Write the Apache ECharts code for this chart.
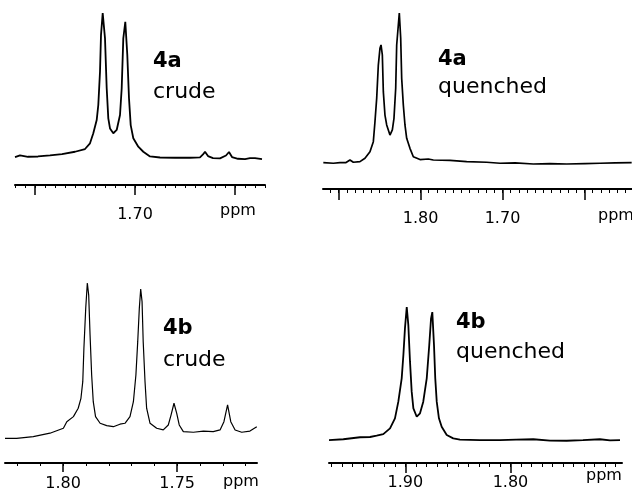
<!DOCTYPE html>
<html>
<head>
<meta charset="utf-8">
<script src="https://cdn.jsdelivr.net/npm/echarts@6/dist/echarts.min.js"></script>
<style>
  html, body { margin: 0; padding: 0; background: #fff; }
  #chart { width: 632px; height: 494px; }
</style>
</head>
<body>
<div id="chart"></div>
<script>
// 4a crude (top left)
var ppm4aCrude = [1.820, 1.815, 1.807, 1.797, 1.785, 1.773, 1.760, 1.750, 1.745, 1.7417, 1.7383, 1.7367, 1.735, 1.734, 1.7323, 1.730, 1.7283, 1.7267, 1.725, 1.7217, 1.7183, 1.715, 1.7133, 1.7117, 1.7097, 1.7077, 1.706, 1.7043, 1.7017, 1.6967, 1.6917, 1.685, 1.675, 1.660, 1.645, 1.635, 1.632, 1.630, 1.627, 1.622, 1.615, 1.609, 1.606, 1.603, 1.597, 1.590, 1.585, 1.580, 1.573];
var int4aCrude = [-0.5, 0.7, -0.3, -0.1, 0.7, 1.6, 3.2, 5.1, 9.1, 16.1, 25.3, 35.8, 59.0, 84.6, 100, 82.3, 47.5, 26.5, 19.5, 16.1, 18.4, 28.8, 47.5, 82.3, 93.9, 70.7, 40.5, 21.8, 12.6, 6.7, 3.2, -0.1, -0.8, -1.0, -1.0, -0.7, 1.3, 3.2, 0.2, -1.2, -1.4, 0.6, 3.0, -0.5, -1.7, -1.9, -1.2, -1.2, -1.9];
var major4aCrude = [1.80, 1.70, 1.60];
var labels4aCrude = [1.70];

// 4a quenched (top right)
var ppm4aQuench = [1.9186, 1.9064, 1.8983, 1.8909, 1.8861, 1.8820, 1.8739, 1.8678, 1.8617, 1.8576, 1.8556, 1.8535, 1.8515, 1.8495, 1.8482, 1.8466, 1.8454, 1.8434, 1.8413, 1.8373, 1.8344, 1.8324, 1.8303, 1.8291, 1.8271, 1.8259, 1.8242, 1.8230, 1.8210, 1.8190, 1.8169, 1.8129, 1.8088, 1.8007, 1.7905, 1.7844, 1.7640, 1.7437, 1.7193, 1.7030, 1.6847, 1.6624, 1.6420, 1.6217, 1.5993, 1.5810, 1.5627, 1.5424];
var int4aQuench = [-1.2, -1.6, -1.2, -1.1, 0.6, -0.9, -0.5, 1.8, 6.2, 13.0, 26.5, 42.3, 64.8, 76.1, 78.4, 71.6, 46.8, 31.0, 24.3, 17.5, 20.9, 28.8, 49.1, 78.4, 91.9, 100, 82.9, 55.8, 37.8, 24.3, 15.3, 8.5, 2.8, 0.9, 1.3, 0.6, 0.3, -0.5, -0.9, -1.6, -1.4, -2.1, -1.8, -2.1, -1.8, -1.6, -1.4, -1.2];
var major4aQuench = [1.90, 1.80, 1.70, 1.60];
var labels4aQuench = [1.80, 1.70];

// 4b crude (bottom left)
var ppm4bCrude = [1.8255, 1.8204, 1.8131, 1.8058, 1.7999, 1.7984, 1.7955, 1.7934, 1.7922, 1.7914, 1.7909, 1.7901, 1.7894, 1.7888, 1.7882, 1.7875, 1.7868, 1.7858, 1.7838, 1.7809, 1.7780, 1.7751, 1.7729, 1.7707, 1.7692, 1.7681, 1.7673, 1.7666, 1.7660, 1.7654, 1.7649, 1.7641, 1.7634, 1.7619, 1.7590, 1.7561, 1.7539, 1.7527, 1.7514, 1.7502, 1.7491, 1.7473, 1.7429, 1.7385, 1.7342, 1.7312, 1.7295, 1.7279, 1.7265, 1.7246, 1.7217, 1.7181, 1.7151];
var int4bCrude = [-0.1, -0.1, 1.0, 3.2, 6.4, 10.6, 13.9, 19.3, 25.7, 36.4, 57.9, 83.7, 100, 92.3, 66.5, 40.7, 23.5, 13.9, 9.6, 8.1, 7.4, 9.0, 9.6, 13.9, 23.5, 40.7, 62.2, 83.7, 96.1, 88.0, 62.2, 36.4, 19.3, 9.6, 6.4, 5.3, 8.5, 14.9, 22.5, 16.0, 8.5, 4.2, 3.8, 4.6, 4.2, 5.3, 10.6, 21.4, 10.6, 5.3, 3.8, 4.6, 7.4];
var major4bCrude = [1.80, 1.75];
var labels4bCrude = [1.80, 1.75];

// 4b quenched (bottom right)
var ppm4bQuench = [1.9725, 1.9589, 1.9430, 1.9335, 1.9272, 1.9209, 1.9145, 1.9098, 1.9066, 1.9034, 1.9018, 1.9003, 1.8986, 1.8971, 1.8955, 1.8939, 1.8923, 1.8891, 1.8860, 1.8829, 1.8796, 1.8772, 1.8755, 1.8743, 1.8727, 1.8715, 1.8701, 1.8680, 1.8654, 1.8606, 1.8544, 1.8480, 1.8290, 1.8100, 1.7947, 1.7783, 1.7624, 1.7466, 1.7311, 1.7150, 1.7054, 1.6959];
var int4bQuench = [0.2, 0.8, 2.3, 2.5, 3.5, 4.7, 9.0, 16.5, 29.0, 46.5, 64.0, 84.0, 100, 86.5, 59.0, 36.5, 24.0, 17.7, 20.3, 29.0, 46.5, 71.5, 91.5, 96.2, 71.5, 46.5, 29.0, 16.5, 10.2, 4.0, 1.5, 0.6, 0.2, 0.2, 0.6, 0.8, -0.2, -0.3, 0.2, 0.8, 0, 0.2];
var major4bQuench = [1.90, 1.80];
var labels4bQuench = [1.90, 1.80];

var compounds = ['4a', '4a', '4b', '4b'];
var conditions = ['crude', 'quenched', 'crude', 'quenched'];

var FONT = '"DejaVu Sans", sans-serif';

var panels = [
  { ppm: ppm4aCrude, val: int4aCrude, major: major4aCrude, labels: labels4aCrude,
    grid: { left: 15, top: 13, width: 250, height: 172 }, xMin: 1.57, xMax: 1.82, yMin: -20,
    margin: 22, majorLen: 10, minorLen: 3, lineW: 1.8,
    ppmPos: [220, 211], namePos: [153, 62], condPos: [153, 92] },
  { ppm: ppm4aQuench, val: int4aQuench, major: major4aQuench, labels: labels4aQuench,
    grid: { left: 323, top: 13, width: 309, height: 176 }, xMin: 1.542, xMax: 1.919, yMin: -19,
    margin: 22, majorLen: 11, minorLen: 4, lineW: 1.7,
    ppmPos: [598, 216], namePos: [438, 60], condPos: [438, 87] },
  { ppm: ppm4bCrude, val: int4bCrude, major: major4bCrude, labels: labels4bCrude,
    grid: { left: 5, top: 283, width: 252, height: 180 }, xMin: 1.715, xMax: 1.8255, yMin: -16,
    margin: 13, majorLen: 9, minorLen: 3, lineW: 1.2,
    ppmPos: [223, 482], namePos: [163, 329], condPos: [163, 360] },
  { ppm: ppm4bQuench, val: int4bQuench, major: major4bQuench, labels: labels4bQuench,
    grid: { left: 329, top: 307, width: 293, height: 156 }, xMin: 1.694, xMax: 1.9725, yMin: -17,
    margin: 12, majorLen: 10, minorLen: 4, lineW: 1.8,
    ppmPos: [586, 476], namePos: [456, 323], condPos: [456, 352] }
];

// minor ticks every 0.01 ppm inside the axis range
function minorTicks(min, max) {
  var out = [];
  for (var k = Math.ceil(min * 100 - 1e-6); k <= Math.floor(max * 100 + 1e-6); k++) {
    out.push(k / 100);
  }
  return out;
}

var grids = [], xAxes = [], yAxes = [], series = [], texts = [];

panels.forEach(function (p, i) {
  grids.push(Object.assign({ containLabel: false }, p.grid));

  // minor ticks
  xAxes.push({
    type: 'value', gridIndex: i, position: 'bottom', inverse: true,
    min: p.xMin, max: p.xMax,
    axisLine: { show: false, onZero: false },
    axisTick: { show: true, customValues: minorTicks(p.xMin, p.xMax), length: p.minorLen,
      lineStyle: { color: '#000', width: 1 } },
    axisLabel: { show: false },
    splitLine: { show: false }
  });
  // axis line, major ticks and labels
  xAxes.push({
    type: 'value', gridIndex: i, position: 'bottom', inverse: true,
    min: p.xMin, max: p.xMax,
    axisLine: { show: true, onZero: false, lineStyle: { color: '#000', width: 2 } },
    axisTick: { show: true, customValues: p.major, length: p.majorLen,
      lineStyle: { color: '#000', width: 1.5 } },
    axisLabel: {
      show: true, customValues: p.labels, margin: p.margin,
      color: '#000', fontFamily: FONT, fontSize: 16,
      formatter: function (v) { return Number(v).toFixed(2); }
    },
    splitLine: { show: false }
  });
  yAxes.push({ type: 'value', gridIndex: i, min: p.yMin, max: 100, show: false });

  series.push({
    type: 'line', xAxisIndex: 2 * i + 1, yAxisIndex: i,
    data: p.ppm.map(function (x, j) { return [x, p.val[j]]; }),
    showSymbol: false, symbol: 'none', silent: true,
    lineStyle: { color: '#000', width: p.lineW }
  });

  texts.push({ type: 'text', x: p.ppmPos[0], y: p.ppmPos[1],
    style: { text: 'ppm', font: '16px ' + FONT, fill: '#000', verticalAlign: 'middle' } });
  texts.push({ type: 'text', x: p.namePos[0], y: p.namePos[1],
    style: { text: compounds[i], font: 'bold 21px ' + FONT, fill: '#000', verticalAlign: 'middle' } });
  texts.push({ type: 'text', x: p.condPos[0], y: p.condPos[1],
    style: { text: conditions[i], font: '22px ' + FONT, fill: '#000', verticalAlign: 'middle' } });
});

var myChart = echarts.init(document.getElementById('chart'));
var option = {
  backgroundColor: '#fff',
  animation: false,
  grid: grids,
  xAxis: xAxes,
  yAxis: yAxes,
  series: series,
  graphic: texts
};
myChart.setOption(option);
</script>
</body>
</html>
